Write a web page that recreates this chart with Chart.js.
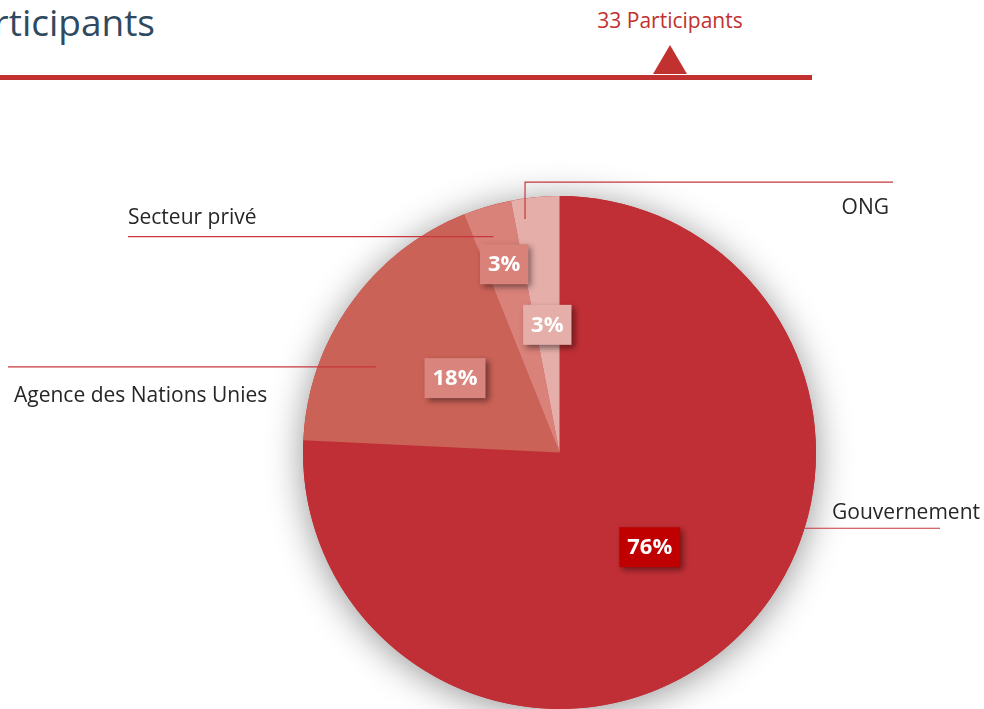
<!DOCTYPE html>
<html>
<head>
<meta charset="utf-8">
<script src="https://cdn.jsdelivr.net/npm/chart.js@4"></script>
<style>
  html, body { margin: 0; padding: 0; background: #fff; overflow: hidden; width: 984px; height: 709px; }
  body { position: relative; font-family: 'Open Sans', sans-serif; }
  .title { position: absolute; top: 3px; right: 829px; font-size: 37px; line-height: 37px; color: #2F4A5F; white-space: nowrap; }
  .count { position: absolute; top: 10px; left: 570px; width: 200px; text-align: center; font-size: 21px; line-height: 21px; color: #C0312F; white-space: nowrap; }
  .rule { position: absolute; left: 0; top: 75px; width: 812px; height: 5px; background: #C0312F; }
  .tri { position: absolute; left: 653px; top: 45px; width: 0; height: 0; border-left: 17px solid transparent; border-right: 17px solid transparent; border-bottom: 29px solid #C0312F; }
  #wrap { position: absolute; left: 0; top: 0; width: 984px; height: 760px; }
</style>
</head>
<body>
<div class="title">Participants</div>
<div class="count">33 Participants</div>
<div class="tri"></div>
<div class="rule"></div>
<div id="wrap"><canvas id="pie"></canvas></div>
<script>
'use strict';

/* --------------------------------------------------------------------------
   DATA
   -------------------------------------------------------------------------- */
const categories = ['Gouvernement', 'Agence des Nations Unies', 'Secteur privé', 'ONG'];
const participants = [25, 6, 1, 1];
const sliceColors = ['#C02F36', '#CB6257', '#D9827A', '#E5AEA9'];

/* label styling / placement (not data) */
const boxColors = ['#C00000', '#D9857D', '#D9827A', '#E5AEA9'];
const boxRadius = [0.51, 0.50, 0.765, 0.50];
const leaders = [
    { frac: 0.393, r: 1.00, endX: 940, textX: 980, align: 'right', textDy: -9 },
    { frac: 0.34,  r: 0.79, endX: 8,   textX: 14,  align: 'left',  textDy: 35 },
    { frac: 0.44,  r: 0.88, endX: 128, textX: 128, align: 'left',  textDy: -13 },
    { frac: 0.23,  r: 0.92, endX: 893, textX: 889, align: 'right', textDy: 32, elbow: -37 },
];

const LINE_COLOR = '#C8373D';
const LABEL_FONT = '21px "Open Sans", sans-serif';
const PCT_FONT = 'bold 22px "Open Sans", sans-serif';

/* --------------------------------------------------------------------------
   PLUGINS
   -------------------------------------------------------------------------- */
const pieShadow = {
    id: 'pieShadow',
    beforeDatasetsDraw(chart) {
        const arc = chart.getDatasetMeta(0).data[0];
        const { ctx } = chart;
        ctx.save();
        ctx.shadowColor = 'rgba(0,0,0,0.42)';
        ctx.shadowBlur = 36;
        ctx.shadowOffsetY = 4;
        ctx.fillStyle = sliceColors[0];
        ctx.beginPath();
        ctx.arc(arc.x, arc.y, arc.outerRadius, 0, Math.PI * 2);
        ctx.fill();
        ctx.restore();
    },
};

const pieLabels = {
    id: 'pieLabels',
    afterDatasetsDraw(chart) {
        const { ctx } = chart;
        const meta = chart.getDatasetMeta(0);
        const total = participants.reduce((a, b) => a + b, 0);

        meta.data.forEach((arc, i) => {
            const R = arc.outerRadius;
            const L = leaders[i];

            // leader line + category text
            const a = arc.startAngle + (arc.endAngle - arc.startAngle) * L.frac;
            const ax = arc.x + Math.cos(a) * R * L.r;
            const ay = arc.y + Math.sin(a) * R * L.r;
            ctx.save();
            ctx.strokeStyle = LINE_COLOR;
            ctx.lineWidth = 1.2;
            ctx.beginPath();
            ctx.moveTo(ax, ay);
            let ly = ay;
            if (L.elbow) {
                ly = ay + L.elbow;
                ctx.lineTo(ax, ly);
            }
            ctx.lineTo(L.endX, ly);
            ctx.stroke();
            ctx.fillStyle = '#262626';
            ctx.font = LABEL_FONT;
            ctx.textAlign = L.align;
            ctx.textBaseline = 'alphabetic';
            ctx.fillText(categories[i], L.textX, ly + L.textDy);
            ctx.restore();

            // percentage box
            const m = (arc.startAngle + arc.endAngle) / 2;
            const bx = arc.x + Math.cos(m) * R * boxRadius[i];
            const by = arc.y + Math.sin(m) * R * boxRadius[i];
            const txt = Math.round(participants[i] / total * 100) + '%';
            ctx.save();
            ctx.font = PCT_FONT;
            const w = ctx.measureText(txt).width + 16;
            const h = 40;
            ctx.shadowColor = 'rgba(0,0,0,0.45)';
            ctx.shadowBlur = 6;
            ctx.shadowOffsetX = 3;
            ctx.shadowOffsetY = 3;
            ctx.fillStyle = boxColors[i];
            ctx.fillRect(bx - w / 2, by - h / 2, w, h);
            ctx.shadowColor = 'transparent';
            ctx.fillStyle = '#fff';
            ctx.textAlign = 'center';
            ctx.textBaseline = 'middle';
            ctx.fillText(txt, bx, by + 1);
            ctx.restore();
        });
    },
};

/* --------------------------------------------------------------------------
   CHART
   -------------------------------------------------------------------------- */
new Chart(document.getElementById('pie').getContext('2d'), {
    type: 'pie',
    data: {
        labels: categories,
        datasets: [{
            data: participants,
            backgroundColor: sliceColors,
            borderWidth: 0,
            offset: 0,
            hoverOffset: 0,
        }],
    },
    options: {
        responsive: true,
        maintainAspectRatio: false,
        animation: false,
        layout: { padding: { top: 196, bottom: 51, left: 303, right: 168 } },
        plugins: {
            legend: { display: false },
            tooltip: { enabled: false },
        },
    },
    plugins: [pieShadow, pieLabels],
});
</script>
</body>
</html>
